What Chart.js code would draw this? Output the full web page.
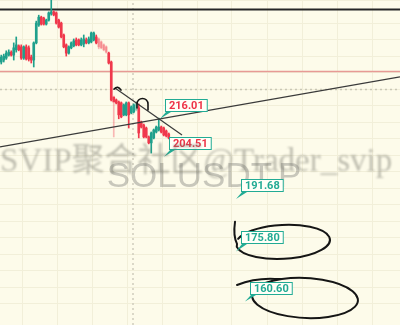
<!DOCTYPE html>
<html lang="en">
<head>
<meta charset="UTF-8">
<title>SOLUSDT.P</title>
<script src="https://cdn.jsdelivr.net/npm/chart.js"></script>
<style>
  html, body { margin: 0; padding: 0; background: #fdfbea; }
  canvas { display: block; }
</style>
</head>
<body>
<canvas id="chart" width="400" height="325"></canvas>
<script>
  // candles, left to right (price)
  const opens  = [233.2,233.8,234.4,235.3,236.2,235.3,236.9,238.1,237.8,234.4,237.8,237.5,234.7,233.8,239.0,244.4,246.8,246.5,244.7,245.9,
                  247.8,248.4,248.1,245.9,245.0,241.4,238.4,235.9,237.5,238.1,239.9,239.9,238.4,238.7,239.9,239.0,239.3,239.9,240.8,240.2,
                  239.3,238.4,237.8,235.9,233.2,222.6,221.7,221.1,220.8,217.2,217.2,220.8,217.8,218.1,218.7,219.3,215.0,214.1,213.2,210.5,
                  208.7,210.2,212.0,212.6,213.5,213.2,212.3,211.4];
  const highs  = [235.3,235.6,236.6,236.9,236.6,239.0,240.8,238.4,238.4,238.1,238.4,238.1,235.3,239.3,245.6,247.4,247.1,246.8,246.2,248.4,
                  252.0,248.7,248.4,246.2,245.3,241.7,238.7,238.1,239.3,240.2,240.5,240.2,240.5,241.4,240.5,240.8,242.3,242.3,241.4,240.5,
                  239.6,238.7,238.1,236.2,233.5,222.9,222.0,221.4,221.1,220.5,221.1,221.1,219.9,220.5,221.1,220.5,215.3,214.4,213.5,210.8,
                  212.0,212.9,213.8,216.2,213.8,213.5,212.6,211.7];
  const lows   = [232.6,233.2,234.0,235.0,235.0,233.8,236.2,236.6,234.0,234.0,233.8,233.5,232.9,231.7,238.7,244.0,244.4,244.4,244.4,245.6,
                  247.4,247.2,244.7,243.5,240.5,237.5,235.0,235.6,237.2,237.8,238.1,238.1,238.1,237.8,238.7,238.7,239.0,239.6,238.7,237.2,
                  237.2,236.6,235.9,232.6,221.4,210.5,220.5,216.0,216.3,216.9,216.9,213.2,217.5,217.8,218.4,210.2,213.2,210.2,210.2,208.4,
                  205.6,209.9,211.7,212.3,211.7,210.8,210.5,209.9];
  const closes = [234.7,235.0,235.9,236.2,235.3,237.5,238.4,236.9,234.4,237.8,234.1,234.1,233.8,239.0,245.0,246.8,244.7,244.7,245.9,248.1,
                  248.4,247.5,245.0,243.8,240.8,237.8,235.9,237.8,239.0,239.6,238.4,238.4,239.9,240.2,239.0,240.2,242.0,242.0,239.0,237.8,
                  237.5,236.9,236.2,232.9,221.7,221.1,220.8,217.2,216.6,220.2,220.8,217.2,219.6,220.2,220.8,211.7,213.5,210.5,210.5,208.7,
                  211.7,212.6,213.5,213.5,212.0,211.1,210.8,210.2];
  const fadedBars = [39, 40, 41, 42, 54];

  // drawn levels and trend lines (bar index, price)
  const topLevel = 249.1;
  const redLevel = 230.3;
  const dotLevel = 224.9;
  const crossIndex = 52.7;
  const riseLine = [[-0.5, 207.5], [159.5, 228.7]];
  const fallLine = [[45.5, 225.3], [72.3, 211.1]];

  // price callouts: bar index, price, label
  const calloutIdx    = [63.5, 65.1, 93.9, 93.9, 97.5];
  const calloutPrices = [216.01, 204.51, 191.68, 175.80, 160.60];
  const calloutLabels = ['216.01', '204.51', '191.68', '175.80', '160.60'];

  // hand drawn circles round the lower targets: bar index, price
  const circleIdx    = [112.7, 121.5];
  const circlePrices = [178.7, 161.7];

  const UP = '#1fa08c', DOWN = '#f0384c';
  const UP_PALE = 'rgba(31,160,140,0.35)', DOWN_PALE = 'rgba(240,56,76,0.35)';
  const TEAL = '#22ab94';

  function candleColor(i) {
    const up = closes[i] >= opens[i];
    if (fadedBars.includes(i)) return up ? UP_PALE : DOWN_PALE;
    return up ? UP : DOWN;
  }

  const barColors = opens.map((o, i) => candleColor(i));
  // the long lower wick of the drop bar is pale on the original
  const wickColors = barColors.map((c, i) => i === 45 ? DOWN_PALE : c);

  const bgPlugin = {
    id: 'bg',
    beforeDraw(chart) {
      const ctx = chart.ctx;
      ctx.save();
      ctx.fillStyle = '#fdfbea';
      ctx.fillRect(0, 0, chart.width, chart.height);
      ctx.restore();
    },
    beforeDatasetsDraw(chart) {
      // symbol watermark
      const ctx = chart.ctx;
      ctx.save();
      ctx.font = '35px "Liberation Sans"';
      ctx.fillStyle = 'rgba(80,80,80,0.3)';
      ctx.textAlign = 'center';
      ctx.textBaseline = 'alphabetic';
      ctx.fillText('SOLUSDT.P', 204, 187);
      ctx.restore();
    }
  };

  function callout(ctx, x, y, text, color) {
    ctx.font = 'bold 11px Roboto';
    const w = ctx.measureText(text).width + 8;
    const h = 13;
    const left = Math.round(x + 5), bottom = Math.round(y - 7);
    ctx.beginPath();
    ctx.moveTo(x, y);
    ctx.lineTo(left + 1, bottom);
    ctx.lineTo(left + 6, bottom);
    ctx.closePath();
    ctx.fillStyle = TEAL;
    ctx.fill();
    ctx.fillStyle = '#fffff7';
    ctx.fillRect(left, bottom - h, w, h);
    ctx.strokeStyle = TEAL;
    ctx.lineWidth = 1;
    ctx.strokeRect(left + 0.5, bottom - h + 0.5, w - 1, h - 1);
    ctx.fillStyle = color;
    ctx.textAlign = 'center';
    ctx.textBaseline = 'middle';
    ctx.fillText(text, left + w / 2, bottom - h / 2 + 0.5);
  }

  const drawingsPlugin = {
    id: 'drawings',
    afterDatasetsDraw(chart) {
      const ctx = chart.ctx;
      const xs = chart.scales.x, ys = chart.scales.y;
      ctx.save();
      ctx.strokeStyle = '#151515';
      ctx.lineWidth = 1.6;
      ctx.lineCap = 'round';

      // small hook at start of the falling line
      let hx = xs.getPixelForValue(46.7), hy = ys.getPixelForValue(225.0);
      ctx.beginPath();
      ctx.moveTo(hx - 4, hy);
      ctx.quadraticCurveTo(hx, hy - 4, hx + 3, hy + 1);
      ctx.stroke();

      // arch over the bounce
      const ax = xs.getPixelForValue(56.5), ay = ys.getPixelForValue(220.5);
      ctx.beginPath();
      ctx.moveTo(ax - 5.5, ay + 4);
      ctx.arc(ax, ay, 5.5, Math.PI, 0);
      ctx.lineTo(ax + 5.5, ay + 6);
      ctx.stroke();

      // circles round the targets
      ctx.lineWidth = 2;
      let cx = xs.getPixelForValue(circleIdx[0]), cy = ys.getPixelForValue(circlePrices[0]);
      ctx.beginPath();
      ctx.moveTo(cx - 48, cy - 20);
      ctx.quadraticCurveTo(cx - 50, cy - 6, cx - 46, cy + 2);
      ctx.ellipse(cx, cy, 47, 17, -0.05, Math.PI * 0.95, -Math.PI * 0.9, true);
      ctx.stroke();

      cx = xs.getPixelForValue(circleIdx[1]); cy = ys.getPixelForValue(circlePrices[1]);
      ctx.beginPath();
      ctx.moveTo(cx - 68, cy - 13);
      ctx.quadraticCurveTo(cx - 50, cy - 20, cx - 30, cy - 19);
      ctx.ellipse(cx, cy, 53, 20, 0.05, -Math.PI * 0.65, Math.PI * 1.42, false);
      ctx.stroke();

      // callouts
      calloutPrices.forEach((p, i) => {
        const x = xs.getPixelForValue(calloutIdx[i]);
        const y = ys.getPixelForValue(p);
        callout(ctx, x, y, calloutLabels[i], p > 200 ? '#ee3347' : TEAL);
      });
      ctx.restore();
    },
    afterDraw(chart) {
      // overlay watermark
      const ctx = chart.ctx;
      ctx.save();
      const text = 'SVIP聚合社区@Trader_svip';
      ctx.font = '29px "Liberation Serif", "Noto Sans CJK SC"';
      const k = 392 / ctx.measureText(text).width;
      ctx.font = (29 * k).toFixed(1) + 'px "Liberation Serif", "Noto Sans CJK SC"';
      ctx.filter = 'blur(0.8px)';
      ctx.fillStyle = 'rgba(115,115,105,0.45)';
      ctx.textBaseline = 'alphabetic';
      ctx.fillText(text, 0, 171);
      ctx.restore();
    }
  };

  const xTicks = [];
  for (let v = 8.3; v < 160; v += 14) xTicks.push({ value: v });

  const levelLine = (y, color, width, dash, order) => ({
    type: 'line',
    data: [{ x: -0.5, y: y }, { x: 159.5, y: y }],
    borderColor: color,
    borderWidth: width,
    borderDash: dash,
    pointRadius: 0,
    fill: false,
    order: order
  });

  new Chart(document.getElementById('chart'), {
    type: 'bar',
    data: {
      datasets: [
        levelLine(dotLevel, '#c9c7b6', 1.5, [2, 3], 3),
        {
          type: 'line',
          data: [{ x: crossIndex, y: 153.5 }, { x: crossIndex, y: 252 }],
          borderColor: '#cfcdbd',
          borderWidth: 1.5,
          borderDash: [2, 3],
          pointRadius: 0,
          order: 3
        },
        levelLine(redLevel, '#e79a95', 1.5, [], 2),
        levelLine(topLevel, '#262626', 2, [], 2),
        {
          label: 'wicks',
          data: lows.map((l, i) => ({ x: i, y: [l, highs[i]] })),
          backgroundColor: wickColors,
          barThickness: 1,
          grouped: false,
          order: 1
        },
        {
          label: 'bodies',
          data: opens.map((o, i) => ({ x: i, y: [o, closes[i]] })),
          backgroundColor: barColors,
          barThickness: 2,
          grouped: false,
          order: 0
        },
        {
          type: 'line',
          data: riseLine.map(p => ({ x: p[0], y: p[1] })),
          borderColor: '#3a3a3a',
          borderWidth: 1.2,
          pointRadius: 0,
          order: -1
        },
        {
          type: 'line',
          data: fallLine.map(p => ({ x: p[0], y: p[1] })),
          borderColor: '#3a3a3a',
          borderWidth: 1.2,
          pointRadius: 0,
          order: -1
        }
      ]
    },
    options: {
      responsive: false,
      animation: false,
      layout: { padding: 0 },
      plugins: { legend: { display: false }, tooltip: { enabled: false } },
      scales: {
        x: {
          type: 'linear',
          min: -0.5,
          max: 159.5,
          offset: false,
          grid: { color: '#f2efd9', drawTicks: false, offset: false },
          border: { display: false },
          ticks: { display: false },
          afterBuildTicks: scale => { scale.ticks = xTicks; }
        },
        y: {
          min: 153.5,
          max: 252,
          beginAtZero: false,
          grid: { color: '#f2efd9', drawTicks: false },
          border: { display: false },
          ticks: { display: false, stepSize: 5 }
        }
      }
    },
    plugins: [bgPlugin, drawingsPlugin]
  });
</script>
</body>
</html>
